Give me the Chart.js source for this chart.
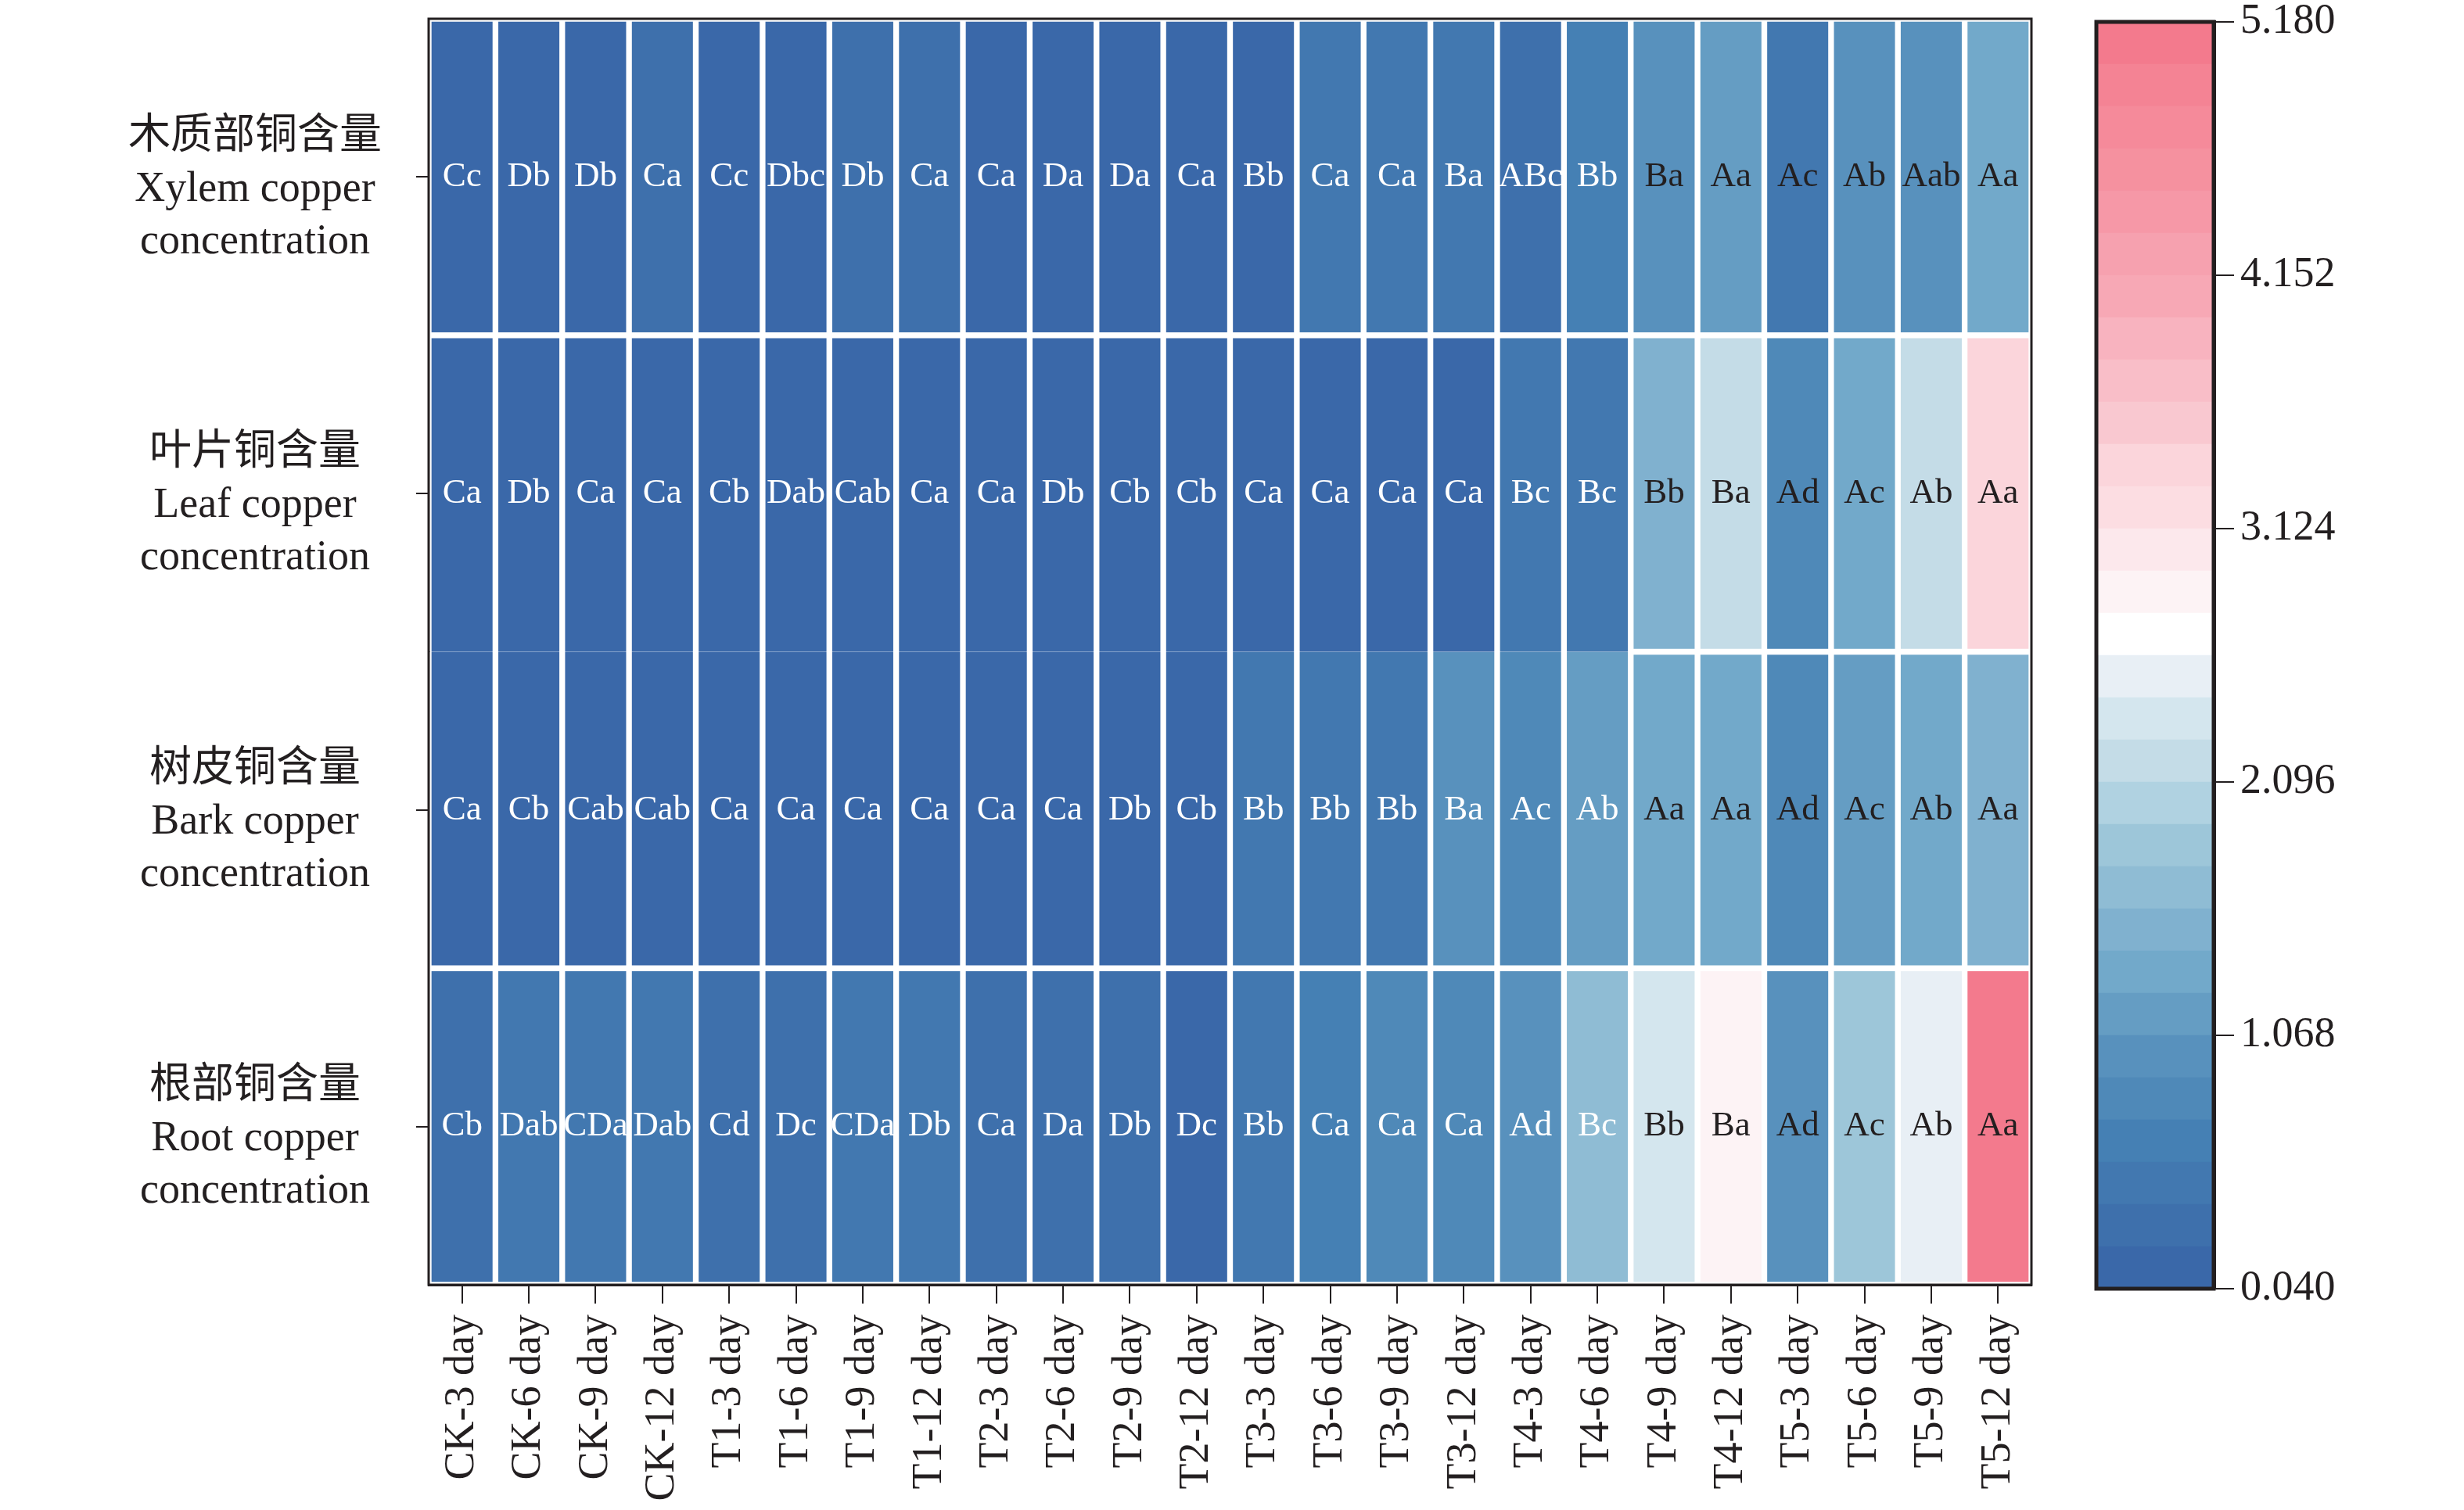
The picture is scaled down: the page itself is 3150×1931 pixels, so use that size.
<!DOCTYPE html>
<html>
<head>
<meta charset="utf-8">
<script src="https://cdn.jsdelivr.net/npm/chart.js@4/dist/chart.umd.min.js"></script>
<style>
  html, body { margin: 0; padding: 0; background: #fff; }
  #wrap { position: relative; width: 3150px; height: 1931px; }
  #heat { position: absolute; left: 0; top: 0; }
  #bar { position: absolute; left: 2640px; top: 0; }
</style>
</head>
<body>
<div id="wrap">
  <canvas id="heat" width="2640" height="1931"></canvas>
  <canvas id="bar" width="510" height="1931"></canvas>
</div>
<script>
// 列（处理-天数）
const columns = ['CK-3 day', 'CK-6 day', 'CK-9 day', 'CK-12 day',
  'T1-3 day', 'T1-6 day', 'T1-9 day', 'T1-12 day',
  'T2-3 day', 'T2-6 day', 'T2-9 day', 'T2-12 day',
  'T3-3 day', 'T3-6 day', 'T3-9 day', 'T3-12 day',
  'T4-3 day', 'T4-6 day', 'T4-9 day', 'T4-12 day',
  'T5-3 day', 'T5-6 day', 'T5-9 day', 'T5-12 day'];

// 行ラベル
const rowLabels = [
  ['木质部铜含量', 'Xylem copper', 'concentration'],
  ['叶片铜含量', 'Leaf copper', 'concentration'],
  ['树皮铜含量', 'Bark copper', 'concentration'],
  ['根部铜含量', 'Root copper', 'concentration'],
];

// 値（色から読み取り）
const xylem = [0.15, 0.12, 0.14, 0.30, 0.18, 0.13, 0.35, 0.37, 0.16, 0.14, 0.15, 0.17,
  0.20, 0.50, 0.52, 0.50, 0.30, 0.65, 1.00, 1.15, 0.45, 0.98, 1.05, 1.30];
const leaf = [0.14, 0.12, 0.15, 0.16, 0.13, 0.12, 0.15, 0.16, 0.14, 0.12, 0.13, 0.15,
  0.15, 0.10, 0.10, 0.06, 0.50, 0.48, 1.50, 2.20, 0.85, 1.35, 2.18, 3.38];
const bark = [0.14, 0.13, 0.15, 0.14, 0.13, 0.14, 0.12, 0.15, 0.14, 0.16, 0.12, 0.13,
  0.40, 0.45, 0.42, 1.00, 0.85, 1.15, 1.32, 1.33, 0.83, 1.10, 1.30, 1.45];
const root = [0.33, 0.50, 0.50, 0.48, 0.32, 0.28, 0.52, 0.46, 0.30, 0.28, 0.26, 0.10,
  0.42, 0.65, 0.80, 0.82, 1.00, 1.65, 2.35, 2.85, 0.98, 1.85, 2.50, 5.18];

// 显著性字母
const xylemSig = ['Cc', 'Db', 'Db', 'Ca', 'Cc', 'Dbc', 'Db', 'Ca', 'Ca', 'Da', 'Da', 'Ca',
  'Bb', 'Ca', 'Ca', 'Ba', 'ABc', 'Bb', 'Ba', 'Aa', 'Ac', 'Ab', 'Aab', 'Aa'];
const leafSig = ['Ca', 'Db', 'Ca', 'Ca', 'Cb', 'Dab', 'Cab', 'Ca', 'Ca', 'Db', 'Cb', 'Cb',
  'Ca', 'Ca', 'Ca', 'Ca', 'Bc', 'Bc', 'Bb', 'Ba', 'Ad', 'Ac', 'Ab', 'Aa'];
const barkSig = ['Ca', 'Cb', 'Cab', 'Cab', 'Ca', 'Ca', 'Ca', 'Ca', 'Ca', 'Ca', 'Db', 'Cb',
  'Bb', 'Bb', 'Bb', 'Ba', 'Ac', 'Ab', 'Aa', 'Aa', 'Ad', 'Ac', 'Ab', 'Aa'];
const rootSig = ['Cb', 'Dab', 'CDa', 'Dab', 'Cd', 'Dc', 'CDa', 'Db', 'Ca', 'Da', 'Db', 'Dc',
  'Bb', 'Ca', 'Ca', 'Ca', 'Ad', 'Bc', 'Bb', 'Ba', 'Ad', 'Ac', 'Ab', 'Aa'];

// 色标
const cbMin = 0.04;
const cbMax = 5.18;
const cbTicks = [0.040, 1.068, 2.096, 3.124, 4.152, 5.180];
const bandColors = ['#3a68a9', '#3e70ac', '#4278b0', '#4580b4', '#4f89b8', '#5891bd',
  '#659dc3', '#72a9ca', '#80b1cf', '#8fbcd4', '#9dc6d9', '#b0d2e1', '#c4dce7', '#d4e6ee',
  '#e8eff5', '#ffffff', '#fdf3f5', '#fce8ec', '#fcdde2', '#fbd5db', '#f9c8d0', '#f9bec8',
  '#f8b3bf', '#f7a8b5', '#f6a1af', '#f698a7', '#f5919f', '#f58a9a', '#f48394', '#f37a8d'];

const rows = [xylem, leaf, bark, root];
const sigs = [xylemSig, leafSig, barkSig, rootSig];
const step = (cbMax - cbMin) / bandColors.length;
const FONT = "'Liberation Serif', 'Times New Roman', 'Noto Sans CJK SC', serif";
const INK = '#231f20';

function colorFor(v) {
  let i = Math.floor((v - cbMin) / step);
  i = Math.max(0, Math.min(bandColors.length - 1, i));
  return bandColors[i];
}

// 外枠
const framePlugin = {
  id: 'frame',
  afterDraw(chart, args, opts) {
    const a = chart.chartArea;
    const c = chart.ctx;
    c.save();
    c.strokeStyle = INK;
    c.lineWidth = opts.width || 3;
    c.strokeRect(a.left, a.top, a.right - a.left, a.bottom - a.top);
    c.restore();
  }
};

// セル内文字
const cellText = {
  id: 'cellText',
  afterDatasetsDraw(chart) {
    const c = chart.ctx;
    c.save();
    c.font = '45px ' + FONT;
    c.textAlign = 'center';
    c.textBaseline = 'middle';
    chart.data.datasets.forEach((ds, di) => {
      chart.getDatasetMeta(di).data.forEach((el, i) => {
        const p = el.getCenterPoint();
        c.fillStyle = i >= 18 ? INK : '#ffffff';
        c.fillText(sigs[di][i], p.x, p.y);
      });
    });
    c.restore();
  }
};

Chart.defaults.font.family = FONT;
Chart.defaults.color = INK;

new Chart(document.getElementById('heat'), {
  type: 'bar',
  data: {
    labels: columns,
    datasets: rows.map((vals, ri) => ({
      label: rowLabels[ri][1],
      data: vals.map(() => [ri, ri + 1]),
      backgroundColor: vals.map(colorFor),
      borderColor: '#ffffff',
      borderSkipped: false,
      borderWidth: (ctx) => {
        const i = ctx.dataIndex;
        const w = { top: 4, bottom: 4, left: 4, right: 4 };
        if (i < 18 && ri === 1) w.bottom = 0;
        if (i < 18 && ri === 2) w.top = 0;
        return w;
      },
      grouped: false,
      barPercentage: 1,
      categoryPercentage: 1,
    })),
  },
  options: {
    responsive: false,
    devicePixelRatio: 1,
    animation: false,
    layout: { padding: { top: 24, right: 43, bottom: 0, left: 0 } },
    plugins: { legend: { display: false }, tooltip: { enabled: false }, frame: { width: 3 } },
    scales: {
      x: {
        type: 'category',
        grid: { display: true, drawOnChartArea: false, offset: false, tickLength: 24, color: INK, lineWidth: 2 },
        border: { display: true, color: INK, width: 3 },
        ticks: { autoSkip: false, maxRotation: 90, minRotation: 90, padding: 14, font: { size: 54 }, color: INK },
        afterFit: (axis) => { axis.height = 288; axis.paddingLeft = 0; axis.paddingRight = 0; },
      },
      y: {
        type: 'linear',
        min: 0,
        max: 4,
        reverse: true,
        afterBuildTicks: (axis) => { axis.ticks = [0.5, 1.5, 2.5, 3.5].map(v => ({ value: v })); },
        grid: { display: true, drawOnChartArea: false, tickLength: 16, color: INK, lineWidth: 2 },
        border: { display: true, color: INK, width: 3 },
        ticks: {
          crossAlign: 'center',
          padding: 44,
          labelOffset: 16,
          font: { size: 54, lineHeight: 1.24 },
          color: INK,
          callback: (v, i) => rowLabels[i],
        },
        afterFit: (axis) => { axis.width = 548; axis.paddingTop = 0; axis.paddingBottom = 0; },
      },
    },
  },
  plugins: [cellText, framePlugin],
});

// カラーバー
new Chart(document.getElementById('bar'), {
  type: 'bar',
  data: {
    labels: [''],
    datasets: bandColors.map((col, i) => ({
      data: [[cbMin + i * step, cbMin + (i + 1) * step]],
      backgroundColor: col,
      borderWidth: 0,
      grouped: false,
      barPercentage: 1,
      categoryPercentage: 1,
    })),
  },
  options: {
    responsive: false,
    devicePixelRatio: 1,
    animation: false,
    layout: { padding: { top: 28, right: 0, bottom: 283, left: 40 } },
    plugins: { legend: { display: false }, tooltip: { enabled: false }, frame: { width: 5 } },
    scales: {
      x: { display: false },
      y: {
        type: 'linear',
        position: 'right',
        min: cbMin,
        max: cbMax,
        afterBuildTicks: (axis) => { axis.ticks = cbTicks.map(v => ({ value: v })); },
        grid: { display: true, drawOnChartArea: false, tickLength: 26, color: INK, lineWidth: 2 },
        border: { display: true, color: INK, width: 5 },
        ticks: { padding: 8, font: { size: 54 }, color: INK, callback: (v) => v.toFixed(3) },
        afterFit: (axis) => { axis.width = 320; axis.paddingTop = 0; axis.paddingBottom = 0; },
      },
    },
  },
  plugins: [framePlugin],
});
</script>
</body>
</html>
